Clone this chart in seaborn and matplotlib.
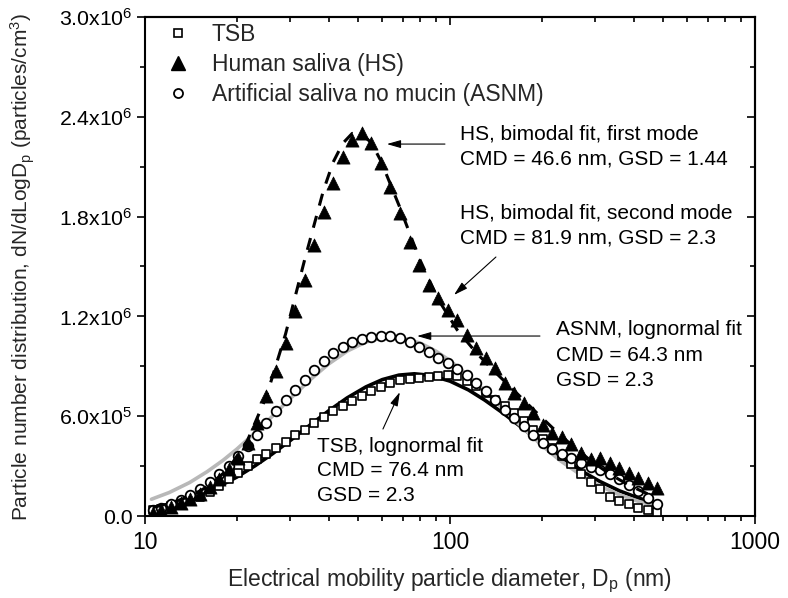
import numpy as np
import pandas as pd
import matplotlib
matplotlib.use("Agg")
import matplotlib.pyplot as plt
from matplotlib.lines import Line2D
from matplotlib.ticker import FixedLocator, LogLocator, NullFormatter
import seaborn as sns

# ---------------- data (dN/dlogDp in units of 1e5 particles/cm3) ----------------
diam = [10.6, 11.3, 12.2, 13.1, 14.1, 15.1, 16.3, 17.5, 18.8, 20.2, 21.7, 23.3, 25.0, 26.9,
        28.9, 31.1, 33.4, 35.9, 38.5, 41.4, 44.5, 47.8, 51.4, 55.2, 59.4, 63.8, 68.5, 73.7,
        79.1, 85.1, 91.4, 98.2, 105.5, 113.4, 121.9, 131.0, 140.7, 151.2, 162.5, 174.7,
        187.7, 201.7, 216.7, 232.9, 250.3, 269.0, 289.0, 310.6, 333.8, 358.7, 385.4, 414.2,
        445.1, 478.3]

tsb = [0.35, 0.45, 0.58, 0.72, 0.9, 1.15, 1.45, 1.8, 2.2, 2.6, 3.0, 3.4, 3.75, 4.1, 4.45,
       4.85, 5.2, 5.6, 5.95, 6.3, 6.6, 6.9, 7.2, 7.5, 7.75, 8.0, 8.15, 8.25, 8.3, 8.35, 8.4,
       8.45, 8.4, 8.1, 7.8, 7.4, 7.0, 6.6, 6.2, 5.7, 5.2, 4.65, 4.1, 3.6, 3.1, 2.55, 2.05,
       1.6, 1.15, 0.9, 0.7, 0.5, 0.35, 0.25]

hs = [0.2, 0.35, 0.55, 0.8, 1.05, 1.35, 1.75, 2.2, 2.8, 3.5, 4.4, 5.6, 7.2, 8.7, 10.4,
      12.3, 14.2, 16.3, 18.3, 20.0, 21.6, 22.6, 23.0, 22.4, 21.2, 19.8, 18.2, 16.5, 15.1,
      13.9, 13.1, 12.4, 11.8, 10.9, 10.1, 9.5, 8.9, 8.0, 7.4, 6.8, 6.2, 5.5, 5.0, 4.75,
      4.3, 3.8, 3.4, 3.5, 3.2, 2.9, 2.6, 2.3, 2.0, 1.7]

asnm = [0.35, 0.5, 0.7, 0.95, 1.25, 1.65, 2.05, 2.5, 3.0, 3.6, 4.2, 4.9, 5.6, 6.3, 7.0,
        7.6, 8.2, 8.75, 9.3, 9.8, 10.15, 10.45, 10.65, 10.75, 10.8, 10.8, 10.7, 10.45,
        10.15, 9.85, 9.5, 9.2, 8.85, 8.45, 8.0, 7.5, 7.0, 6.4, 5.9, 5.4, 4.9, 4.4, 4.0,
        3.7, 3.5, 3.2, 2.95, 2.75, 2.5, 2.2, 1.85, 1.5, 1.1, 0.7]

# fitted curves
tsb_fit_d = [10.5, 12, 14, 16, 18, 20, 23, 26, 30, 35, 40, 46, 53, 60, 68, 76.4, 86, 100,
             115, 130, 150, 170, 200, 230, 270, 310, 360, 420, 480]
tsb_fit = [0.50, 0.72, 1.07, 1.47, 1.90, 2.34, 3.03, 3.70, 4.55, 5.51, 6.32, 7.10, 7.76,
           8.20, 8.47, 8.55, 8.46, 8.11, 7.58, 6.97, 6.16, 5.39, 4.39, 3.56, 2.71, 2.08,
           1.51, 1.05, 0.75]

asnm_fit_d = [10.5, 12, 14, 16, 18, 20, 23, 26, 30, 35, 40, 46, 53, 60, 64.3, 70, 80, 90,
              100, 115, 130, 150, 170, 200, 230, 270, 310, 360, 420, 480]
asnm_fit = [1.01, 1.41, 2.01, 2.67, 3.34, 4.02, 5.02, 5.95, 7.07, 8.23, 9.14, 9.91, 10.46,
            10.71, 10.75, 10.69, 10.39, 9.91, 9.34, 8.43, 7.52, 6.41, 5.44, 4.25, 3.33,
            2.44, 1.81, 1.27, 0.85, 0.58]

hs_fit_d = [10.6, 12.2, 14.1, 16.3, 18.8, 21.7, 25.0, 28.9, 33.4, 38.5, 41.4, 44.5, 47.8,
            51.4, 55.2, 59.4, 68.5, 79.1, 91.4, 105.5, 121.9, 140.7, 162.5, 187.7, 216.7,
            250.3, 289.0, 333.8, 385.4, 445.1, 478.3]
hs_fit = [0.51, 0.79, 1.2, 1.84, 2.85, 4.56, 7.18, 10.94, 15.42, 19.59, 21.27, 22.4, 23.0,
          22.94, 22.45, 21.34, 18.55, 15.54, 13.04, 11.2, 9.82, 8.65, 7.53, 6.40, 5.31,
          4.27, 3.34, 2.53, 1.86, 1.33, 1.11]

legend_labels = ["TSB", "Human saliva (HS)", "Artificial saliva no mucin (ASNM)"]
ytick_vals = [0, 6e5, 1.2e6, 1.8e6, 2.4e6, 3.0e6]
ytick_labels = ["0.0", r"6.0x10$^{5}$", r"1.2x10$^{6}$", r"1.8x10$^{6}$",
                r"2.4x10$^{6}$", r"3.0x10$^{6}$"]
yminor_vals = [3e5, 9e5, 1.5e6, 2.1e6, 2.7e6]
xtick_vals = [10, 100, 1000]
xtick_labels = ["10", "100", "1000"]

SC = 1e5

# ---------------- style ----------------
sns.set_theme(style="ticks")
plt.rcParams["font.family"] = ["Liberation Sans", "DejaVu Sans"]
plt.rcParams["mathtext.fontset"] = "custom"
plt.rcParams["mathtext.rm"] = "Liberation Sans"
plt.rcParams["mathtext.it"] = "Liberation Sans:italic"
plt.rcParams["mathtext.bf"] = "Liberation Sans:bold"
FS_AX = 16.5   # x tick labels, x label, legend
FS_Y = 15.3    # y tick labels
FS_YL = 15     # y label
FS_TX = 15     # annotation text

fig, ax = plt.subplots(figsize=(7.88, 5.98), dpi=100)
fig.subplots_adjust(left=0.184, right=0.958, top=0.9716, bottom=0.1371)
ax.set_xscale("log")

df_tsb = pd.DataFrame({"d": diam, "v": np.array(tsb) * SC})
df_hs = pd.DataFrame({"d": diam, "v": np.array(hs) * SC})
df_asnm = pd.DataFrame({"d": diam, "v": np.array(asnm) * SC})

# fits
sns.lineplot(x=tsb_fit_d, y=np.array(tsb_fit) * SC, color="black", lw=2.6, ax=ax,
             sort=False, zorder=2)
sns.lineplot(x=asnm_fit_d, y=np.array(asnm_fit) * SC, color="#b8b8b8", lw=2.6, ax=ax,
             sort=False, zorder=2)

# data
sns.scatterplot(data=df_tsb, x="d", y="v", marker="s", s=34, facecolor="white",
                edgecolor="black", linewidth=1.2, ax=ax, zorder=3)
sns.scatterplot(data=df_asnm, x="d", y="v", marker="o", s=48, facecolor="white",
                edgecolor="black", linewidth=1.3, ax=ax, zorder=3)
sns.scatterplot(data=df_hs, x="d", y="v", marker="^", s=90, color="black",
                edgecolor="black", linewidth=0.5, ax=ax, zorder=4)

# bimodal HS fit (dashed)
sns.lineplot(x=hs_fit_d, y=np.array(hs_fit) * SC, color="black", lw=2.2, ax=ax,
             sort=False, zorder=5, linestyle=(0, (4, 3.5)))

# axes: bottom/left ticks outward with labels
ax.set_xlim(10, 1000)
ax.set_ylim(0, 3.0e6)
ax.xaxis.set_major_locator(FixedLocator(xtick_vals))
ax.set_xticklabels(xtick_labels)
ax.xaxis.set_minor_locator(LogLocator(base=10, subs=np.arange(2, 10)))
ax.xaxis.set_minor_formatter(NullFormatter())
ax.yaxis.set_major_locator(FixedLocator(ytick_vals))
ax.set_yticklabels(ytick_labels)
ax.yaxis.set_minor_locator(FixedLocator(yminor_vals))
ax.tick_params(which="both", direction="out", width=1.2, colors="black")
ax.tick_params(axis="x", labelsize=FS_AX)
ax.tick_params(axis="y", labelsize=FS_Y)
ax.tick_params(which="major", length=6)
ax.tick_params(which="minor", length=3.5)
ax.tick_params(axis="x", which="major", pad=5)
ax.tick_params(axis="y", which="major", pad=3)
for sp in ax.spines.values():
    sp.set_linewidth(1.5)
    sp.set_color("black")

# top/right: inward ticks, no labels
top = ax.secondary_xaxis("top")
top.xaxis.set_major_locator(FixedLocator(xtick_vals))
top.xaxis.set_minor_locator(LogLocator(base=10, subs=np.arange(2, 10)))
top.xaxis.set_major_formatter(NullFormatter())
top.xaxis.set_minor_formatter(NullFormatter())
top.tick_params(which="both", direction="in", width=1.2, colors="black")
top.tick_params(which="major", length=6)
top.tick_params(which="minor", length=3.5)
top.spines["top"].set_linewidth(1.5)

right = ax.secondary_yaxis("right")
right.yaxis.set_major_locator(FixedLocator(ytick_vals))
right.yaxis.set_minor_locator(FixedLocator(yminor_vals))
right.yaxis.set_major_formatter(NullFormatter())
right.tick_params(which="both", direction="in", width=1.2, colors="black")
right.tick_params(which="major", length=6)
right.tick_params(which="minor", length=3.5)
right.spines["right"].set_linewidth(1.5)

ax.set_xlabel(r"Electrical mobility particle diameter, D$_{\rm p}$ (nm)", fontsize=FS_AX,
              labelpad=9)
ax.set_ylabel(r"Particle number distribution, dN/dLogD$_{\rm p}$ (particles/cm$^{3}$)",
              fontsize=FS_YL, labelpad=16)

# legend
handles = [
    Line2D([], [], ls="none", marker="s", ms=6, mfc="white", mec="black", mew=1.2),
    Line2D([], [], ls="none", marker="^", ms=9.5, mfc="black", mec="black"),
    Line2D([], [], ls="none", marker="o", ms=6.5, mfc="white", mec="black", mew=1.3),
]
ax.legend(handles, legend_labels, loc="upper left", bbox_to_anchor=(0.035, 0.988),
          frameon=False, fontsize=FS_AX, handlelength=1.0, handletextpad=0.99,
          labelspacing=0.31, borderpad=0, borderaxespad=0)

# annotations
arrow_kw = dict(arrowstyle="-|>,head_length=0.7,head_width=0.2", color="black", lw=0.8,
                shrinkA=0, shrinkB=0)
ax.annotate("", xy=(62.1, 2.236e6), xytext=(96.3, 2.236e6), arrowprops=arrow_kw)
ax.annotate("", xy=(103.1, 1.329e6), xytext=(141.5, 1.557e6), arrowprops=arrow_kw)
ax.annotate("", xy=(78.0, 1.082e6), xytext=(197.3, 1.082e6), arrowprops=arrow_kw)
ax.annotate("", xy=(68.5, 7.45e5), xytext=(60.3, 5.23e5), arrowprops=arrow_kw)

notes = [
    (0.516, [0.7655, 0.7154], ["HS, bimodal fit, first mode", "CMD = 46.6 nm, GSD = 1.44"]),
    (0.516, [0.6072, 0.5571], ["HS, bimodal fit, second mode", "CMD = 81.9 nm, GSD = 2.3"]),
    (0.6738, [0.3747, 0.3226, 0.2725], ["ASNM, lognormal fit", "CMD = 64.3 nm", "GSD = 2.3"]),
    (0.282, [0.1383, 0.0922, 0.0421], ["TSB, lognormal fit", "CMD = 76.4 nm", "GSD = 2.3"]),
]
for xx, ys, lines in notes:
    for yy, t in zip(ys, lines):
        ax.text(xx, yy, t, transform=ax.transAxes, ha="left", va="center", fontsize=FS_TX,
                color="black", zorder=6)

fig.savefig("out.png", dpi=100)
